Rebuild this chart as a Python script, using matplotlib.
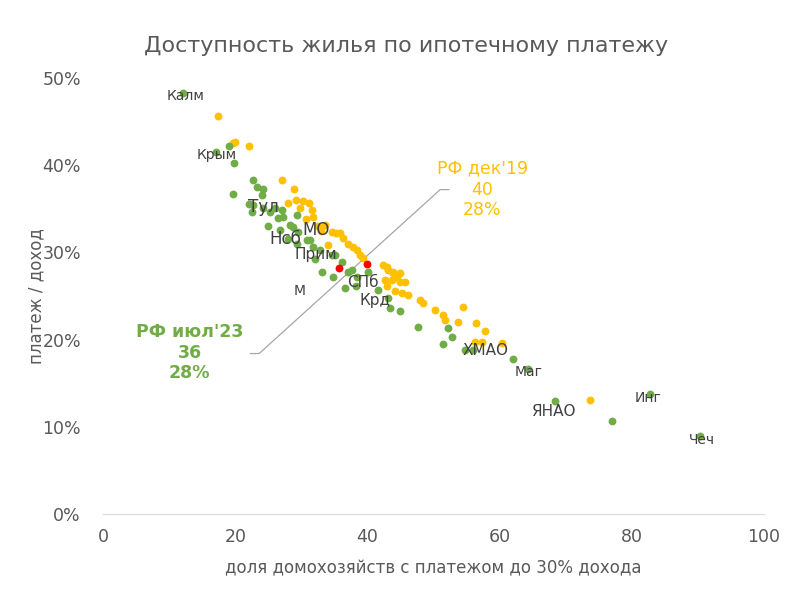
import matplotlib.pyplot as plt
import numpy as np

# yellow: regions, Dec'19 (share of households, payment/income %)
dec19_x = [17.4, 19.7, 20.0, 22.1, 27.1, 28.9, 28.0, 29.2, 30.3, 31.2, 31.6, 29.8,
           31.8, 33.6, 34.6, 35.3, 35.8, 36.3, 37.0, 37.8, 38.4, 38.9, 34.0, 39.3,
           43.0, 43.9, 44.9, 42.4, 43.1, 43.9, 44.5, 42.7, 43.7, 44.9, 45.7, 43.0,
           44.2, 45.2, 46.1, 48.0, 48.4, 50.2, 51.4, 51.7, 53.7, 54.5, 56.4, 57.8,
           56.3, 57.3, 60.4, 73.7, 30.7, 32.5, 33.0]
dec19_y = [45.6, 42.5, 42.7, 42.2, 38.3, 37.3, 35.7, 36.0, 35.9, 35.7, 34.9, 35.1,
           34.1, 33.1, 32.3, 32.2, 32.2, 31.7, 31.0, 30.6, 30.3, 29.7, 30.8, 29.4,
           28.3, 27.8, 27.6, 28.6, 28.0, 27.6, 27.2, 26.8, 26.8, 26.6, 26.6, 26.2,
           25.6, 25.3, 25.1, 24.5, 24.2, 23.4, 22.8, 22.2, 22.0, 23.7, 21.9, 21.0,
           19.7, 19.7, 19.6, 13.1, 33.8, 33.0, 32.5]

# green: regions, Jul'23
jul23_x = [12.1, 19.1, 19.8, 17.1, 22.7, 23.3, 24.2, 19.7, 24.1, 22.7, 22.5, 24.2,
           25.3, 26.0, 27.1, 27.2, 26.5, 29.3, 28.3, 28.7, 26.8, 29.5, 31.3, 31.8,
           28.0, 29.3, 30.9, 32.8, 32.1, 34.6, 35.1, 36.2, 37.7, 33.1, 34.8, 37.1,
           38.4, 38.2, 40.0, 36.6, 41.6, 43.1, 43.4, 44.9, 47.7, 52.2, 52.8, 51.4,
           54.8, 56.0, 62.0, 64.3, 68.4, 77.0, 82.8, 90.3, 22.1, 25.0]
jul23_y = [48.3, 42.2, 40.3, 41.5, 38.3, 37.5, 37.3, 36.7, 36.6, 35.4, 34.6, 35.1,
           34.6, 35.1, 34.9, 34.1, 33.9, 34.3, 33.1, 32.9, 32.6, 32.3, 31.4, 30.6,
           31.5, 31.0, 31.4, 30.3, 29.2, 29.7, 29.7, 28.9, 28.0, 27.8, 27.2, 27.8,
           27.2, 26.1, 27.8, 25.9, 25.7, 24.8, 23.6, 23.3, 21.4, 21.3, 20.3, 19.5,
           18.8, 18.8, 17.8, 16.6, 13.0, 10.7, 13.8, 8.9, 35.5, 33.0]

# red: Russia average
rf_x = [35.7, 39.9]
rf_y = [28.2, 28.7]

region_names = ['Калм', 'Крым', 'Тул', 'Нсб', 'МО', 'Прим', 'М', 'СПб', 'Крд',
                'ХМАО', 'Маг', 'ЯНАО', 'Инг', 'Чеч']
region_x = [12.4, 17.1, 24.2, 27.5, 32.2, 32.2, 29.7, 39.3, 41.1,
            57.8, 64.4, 68.1, 82.5, 90.6]
region_y = [47.9, 41.2, 35.2, 31.5, 32.6, 29.8, 25.6, 26.5, 24.5,
            18.8, 16.3, 11.8, 13.3, 8.5]
region_fs = [10, 10, 12, 12, 12, 11, 10, 11, 11, 11, 10, 11, 10, 10]

GREEN = '#70AD47'
YELLOW = '#FFC000'
TXT = '#404040'

fig = plt.figure(figsize=(8, 5.94), dpi=100)
ax = fig.add_axes([0.129, 0.1347, 0.826, 0.734])

ax.scatter(dec19_x, dec19_y, s=32, color=YELLOW, linewidths=0, zorder=2)
ax.scatter(jul23_x, jul23_y, s=32, color=GREEN, linewidths=0, zorder=3)
ax.scatter(rf_x, rf_y, s=32, color='#FF0000', linewidths=0, zorder=4)

for name, x, y, fs in zip(region_names, region_x, region_y, region_fs):
    ax.text(x, y, name, fontsize=fs, color=TXT, ha='center', va='center', zorder=5)

# leader line between the two RF callouts
ax.plot([22.3, 23.6, 51.0, 52.3], [18.4, 18.4, 37.2, 37.2],
        color='#A6A6A6', lw=0.9, zorder=1)

ax.text(57.4, 37.2, "РФ дек'19\n40\n28%", color=YELLOW, fontsize=12.5,
        ha='center', va='center', linespacing=1.2)
ax.text(13.1, 18.5, "РФ июл'23\n36\n28%", color=GREEN, fontsize=12.5,
        fontweight='bold', ha='center', va='center', linespacing=1.2)

ax.set_xlim(0, 100)
ax.set_ylim(0, 50)
ax.set_xticks(range(0, 101, 20))
ax.set_yticks(range(0, 51, 10))
ax.set_yticklabels([f'{v}%' for v in range(0, 51, 10)])
ax.tick_params(length=0, labelsize=12.5, colors='#595959')
ax.tick_params(axis='y', pad=16)
ax.tick_params(axis='x', pad=10)
for s in ['top', 'right', 'left']:
    ax.spines[s].set_visible(False)
ax.spines['bottom'].set_color('#D9D9D9')

ax.set_xlabel('доля домохозяйств с платежом до 30% дохода', fontsize=12,
              color='#595959', labelpad=10)
ax.set_ylabel('платеж / доход', fontsize=12, color='#595959', labelpad=-2)
fig.suptitle('Доступность жилья по ипотечному платежу', fontsize=16,
             color='#595959', x=0.508, y=0.94)

fig.savefig('out.png', dpi=100)
